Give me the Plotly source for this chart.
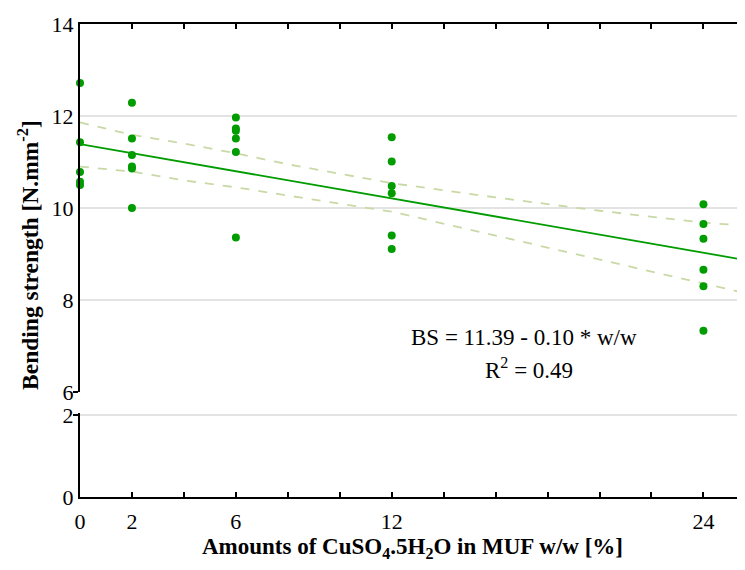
import plotly.graph_objects as go

x0_vals = [12.72, 11.43, 10.78, 10.57, 10.50]
x2_vals = [12.29, 11.51, 11.15, 10.90, 10.86, 10.00]
x6_vals = [11.97, 11.73, 11.68, 11.51, 11.22, 9.36]
x12_vals = [11.54, 11.01, 10.48, 10.32, 9.40, 9.11]
x24_vals = [10.08, 9.65, 9.33, 8.66, 8.30, 7.33]

doses = [0, 2, 6, 12, 24]
groups = [x0_vals, x2_vals, x6_vals, x12_vals, x24_vals]

# regression line BS = 11.39 - 0.10 * w/w
fit_x = [0, 25.6]
fit_y = [11.39, 8.87]

# 95% confidence band
band_x = [0, 2, 4, 6, 8, 12, 16, 20, 24, 25.6]
band_hi = [11.86, 11.59, 11.40, 11.19, 10.95, 10.54, 10.23, 9.94, 9.68, 9.62]
band_lo = [10.90, 10.79, 10.60, 10.45, 10.27, 9.92, 9.40, 8.88, 8.36, 8.15]

# labelled ticks and unlabelled tick marks (every 2 %)
x_ticks = [0, 2, 6, 12, 24]
x_minor = [v for v in range(0, 26, 2) if v not in x_ticks]

pts_x = [d for d, g in zip(doses, groups) for _ in g]
pts_y = [v for g in groups for v in g]

serif = "Liberation Serif"
green = "#009c00"
band_col = "#c9d9a6"

fig = go.Figure()
fig.add_trace(go.Scatter(x=band_x, y=band_hi, mode="lines", xaxis="x2", yaxis="y",
                         line=dict(color=band_col, width=1.8, dash="dash")))
fig.add_trace(go.Scatter(x=band_x, y=band_lo, mode="lines", xaxis="x2", yaxis="y",
                         line=dict(color=band_col, width=1.8, dash="dash")))
fig.add_trace(go.Scatter(x=fit_x, y=fit_y, mode="lines", xaxis="x2", yaxis="y",
                         line=dict(color=green, width=1.8)))
fig.add_trace(go.Scatter(x=pts_x, y=pts_y, mode="markers", xaxis="x2", yaxis="y",
                         marker=dict(color=green, size=8), cliponaxis=False))
# empty trace so the lower (0-2) panel is drawn
fig.add_trace(go.Scatter(x=[None], y=[None], mode="markers", xaxis="x", yaxis="y2"))

axis_font = dict(family=serif, size=22, color="black")
x_minor_ticks = dict(tickmode="array", tickvals=x_minor, ticks="inside",
                     ticklen=5, tickwidth=1.5, tickcolor="black", showgrid=False)

# page body has an 8px margin, so the figure is shrunk to fit the window
fig.update_layout(
    width=737, height=554,
    margin=dict(l=72, r=0, t=16, b=65, autoexpand=False),
    paper_bgcolor="white", plot_bgcolor="white",
    showlegend=False,
    font=dict(family=serif, color="black"),
    xaxis=dict(domain=[0, 1], range=[0, 25.6], anchor="y2",
               tickmode="array", tickvals=x_ticks,
               ticks="inside", ticklen=5, tickwidth=1.5, tickcolor="black",
               showline=True, linecolor="black", linewidth=2,
               showgrid=False, zeroline=False, tickfont=axis_font,
               ticklabelstandoff=4, minor=x_minor_ticks),
    xaxis2=dict(domain=[0, 1], range=[0, 25.6], anchor="y", side="top",
                matches="x",
                tickmode="array", tickvals=x_ticks, showticklabels=False,
                ticks="inside", ticklen=5, tickwidth=1.5, tickcolor="black",
                showline=True, linecolor="black", linewidth=2,
                showgrid=False, zeroline=False, minor=x_minor_ticks),
    yaxis=dict(domain=[0.222, 1], range=[6, 14], anchor="x2",
               tickmode="array", tickvals=[6, 8, 10, 12, 14],
               ticks="", showline=True, linecolor="black", linewidth=2,
               showgrid=True, gridcolor="#e3e3e3", gridwidth=1.5,
               zeroline=False, tickfont=axis_font,
               minor=dict(tickmode="array", tickvals=[6], ticks="outside",
                          ticklen=5, tickwidth=2, tickcolor="black", showgrid=False)),
    yaxis2=dict(domain=[0, 0.1776], range=[0, 2.05], anchor="x",
                tickmode="array", tickvals=[0, 2],
                ticks="", showline=True, linecolor="black", linewidth=2,
                showgrid=True, gridcolor="#e3e3e3", gridwidth=1.5,
                zeroline=False, tickfont=axis_font,
                minor=dict(tickmode="array", tickvals=[2], ticks="outside",
                           ticklen=5, tickwidth=2, tickcolor="black", showgrid=False)),
)

fig.add_annotation(x=17.1, y=7.19, xref="x2", yref="y", showarrow=False,
                   text="BS = 11.39 - 0.10 * w/w", font=dict(family=serif, size=23))
fig.add_annotation(x=17.3, y=6.52, xref="x2", yref="y", showarrow=False,
                   text="R<sup>2</sup> = 0.49", font=dict(family=serif, size=23))

fig.add_annotation(x=-0.078, y=0.512, xref="paper", yref="paper", showarrow=False,
                   xanchor="center", yanchor="middle", textangle=-90,
                   text="<b>Bending strength [N.mm<sup>-2</sup>]</b>",
                   font=dict(family=serif, size=23.5))
fig.add_annotation(x=0.5, y=-0.107, xref="paper", yref="paper", showarrow=False,
                   xanchor="center", yanchor="middle",
                   text="<b>Amounts of CuSO<sub>4</sub>.5H<sub>2</sub>O in MUF w/w [%]</b>",
                   font=dict(family=serif, size=23))

fig.write_html("out.html")
